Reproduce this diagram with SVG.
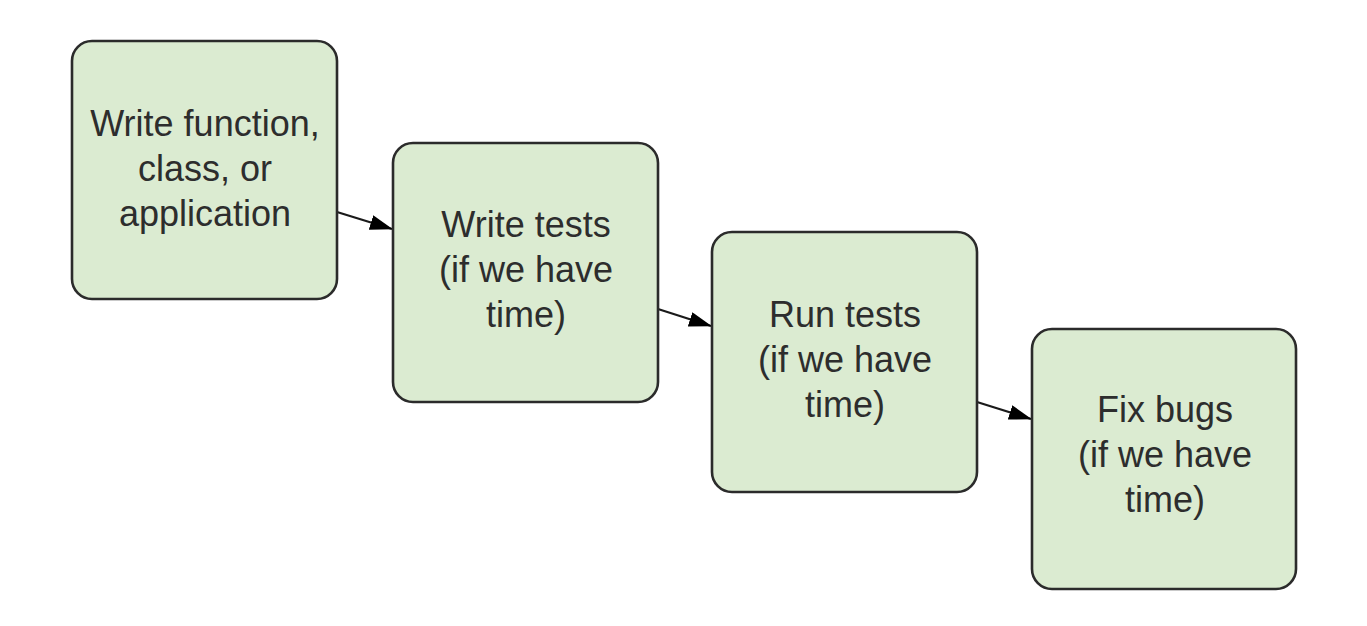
<svg xmlns="http://www.w3.org/2000/svg" width="1367" height="626" viewBox="0 0 1367 626">
<style>
.box{fill:#dbebd1;stroke:#2b2b2b;stroke-width:2.6}
.lbl{font-family:"Liberation Sans",Arial,sans-serif;font-size:36px;fill:#2d2d2d;text-anchor:middle}
.conn{stroke:#1a1a1a;stroke-width:2.2;fill:none;marker-end:url(#ah)}
</style>
<defs>
<marker id="ah" markerWidth="23" markerHeight="15" refX="22" refY="7.5" orient="auto" markerUnits="userSpaceOnUse">
<path d="M0,0 L23,7.5 L0,15 Z" fill="#000"/>
</marker>
</defs>
<rect width="1367" height="626" fill="#fff"/>
<g id="connectors">
<line class="conn" x1="337" y1="212" x2="392" y2="229"/>
<line class="conn" x1="658" y1="309" x2="711" y2="326"/>
<line class="conn" x1="977" y1="402" x2="1031" y2="419"/>
</g>
<g id="node1">
<rect class="box" x="72" y="41" width="265" height="258" rx="20"/>
<text class="lbl" x="205" y="136">Write function,</text>
<text class="lbl" x="205" y="181">class, or</text>
<text class="lbl" x="205" y="226">application</text>
</g>
<g id="node2">
<rect class="box" x="393" y="143" width="265" height="259" rx="20"/>
<text class="lbl" x="526" y="237">Write tests</text>
<text class="lbl" x="526" y="282">(if we have</text>
<text class="lbl" x="526" y="327">time)</text>
</g>
<g id="node3">
<rect class="box" x="712" y="232" width="265" height="260" rx="20"/>
<text class="lbl" x="845" y="327">Run tests</text>
<text class="lbl" x="845" y="372">(if we have</text>
<text class="lbl" x="845" y="417">time)</text>
</g>
<g id="node4">
<rect class="box" x="1032" y="329" width="264" height="260" rx="20"/>
<text class="lbl" x="1165" y="422">Fix bugs</text>
<text class="lbl" x="1165" y="467">(if we have</text>
<text class="lbl" x="1165" y="512">time)</text>
</g>
</svg>
